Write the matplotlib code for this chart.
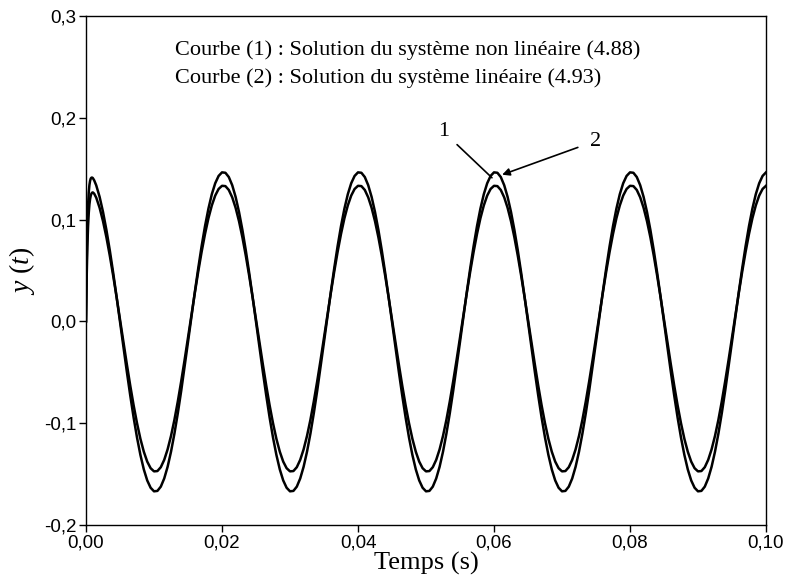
import matplotlib

matplotlib.use("Agg")

import matplotlib.pyplot as plt
import numpy as np
from matplotlib.ticker import FixedLocator, FuncFormatter

# time samples (s): dense start for the transient, then every 0.5 ms
time_start = [0.0, 0.0001, 0.0002, 0.0003, 0.0004, 0.0005, 0.0006,
              0.0007, 0.0008, 0.0009, 0.0010, 0.0012, 0.0015]
time_rest = list(np.round(np.arange(4, 201) * 0.0005, 4))
time_s = time_start + time_rest

# curve (1): non-linear system
y_curve1 = [
    0.0, 0.0441, 0.0736, 0.0932, 0.1062, 0.1148, 0.1202, 0.1236, 0.1255, 0.1264, 0.1266, 0.1254, 0.1215,
    0.1115, 0.0983, 0.0825, 0.0644, 0.0446, 0.0236,
    0.0017, -0.0203, -0.0420, -0.0629, -0.0824, -0.1000, -0.1154, -0.1280, -0.1377, -0.1442,
    -0.1473, -0.1470, -0.1432, -0.1360, -0.1257, -0.1125, -0.0967, -0.0786, -0.0588, -0.0378,
    -0.0159, 0.0061, 0.0278, 0.0487, 0.0682, 0.0858, 0.1012, 0.1138, 0.1235, 0.1300,
    # 0.02 s
    0.1331, 0.1328, 0.1290, 0.1218, 0.1115, 0.0983, 0.0825, 0.0644, 0.0446, 0.0236,
    0.0017, -0.0203, -0.0420, -0.0629, -0.0824, -0.1000, -0.1154, -0.1280, -0.1377, -0.1442,
    -0.1473, -0.1470, -0.1432, -0.1360, -0.1257, -0.1125, -0.0967, -0.0786, -0.0588, -0.0378,
    -0.0159, 0.0061, 0.0278, 0.0487, 0.0682, 0.0858, 0.1012, 0.1138, 0.1235, 0.1300,
    # 0.04 s
    0.1331, 0.1328, 0.1290, 0.1218, 0.1115, 0.0983, 0.0825, 0.0644, 0.0446, 0.0236,
    0.0017, -0.0203, -0.0420, -0.0629, -0.0824, -0.1000, -0.1154, -0.1280, -0.1377, -0.1442,
    -0.1473, -0.1470, -0.1432, -0.1360, -0.1257, -0.1125, -0.0967, -0.0786, -0.0588, -0.0378,
    -0.0159, 0.0061, 0.0278, 0.0487, 0.0682, 0.0858, 0.1012, 0.1138, 0.1235, 0.1300,
    # 0.06 s
    0.1331, 0.1328, 0.1290, 0.1218, 0.1115, 0.0983, 0.0825, 0.0644, 0.0446, 0.0236,
    0.0017, -0.0203, -0.0420, -0.0629, -0.0824, -0.1000, -0.1154, -0.1280, -0.1377, -0.1442,
    -0.1473, -0.1470, -0.1432, -0.1360, -0.1257, -0.1125, -0.0967, -0.0786, -0.0588, -0.0378,
    -0.0159, 0.0061, 0.0278, 0.0487, 0.0682, 0.0858, 0.1012, 0.1138, 0.1235, 0.1300,
    # 0.08 s
    0.1331, 0.1328, 0.1290, 0.1218, 0.1115, 0.0983, 0.0825, 0.0644, 0.0446, 0.0236,
    0.0017, -0.0203, -0.0420, -0.0629, -0.0824, -0.1000, -0.1154, -0.1280, -0.1377, -0.1442,
    -0.1473, -0.1470, -0.1432, -0.1360, -0.1257, -0.1125, -0.0967, -0.0786, -0.0588, -0.0378,
    -0.0159, 0.0061, 0.0278, 0.0487, 0.0682, 0.0858, 0.1012, 0.1138, 0.1235, 0.1300,
    # 0.10 s
    0.1331,
]

# curve (2): linear system
y_curve2 = [
    0.0, 0.0578, 0.0928, 0.1139, 0.1265, 0.1339, 0.1381, 0.1403, 0.1411, 0.1412, 0.1407, 0.1385, 0.1336,
    0.1222, 0.1074, 0.0897, 0.0696, 0.0475, 0.0239,
    -0.0005, -0.0251, -0.0493, -0.0726, -0.0944, -0.1141, -0.1312, -0.1454, -0.1562, -0.1634,
    -0.1669, -0.1665, -0.1623, -0.1543, -0.1428, -0.1280, -0.1103, -0.0902, -0.0681, -0.0445,
    -0.0202, 0.0045, 0.0287, 0.0520, 0.0738, 0.0935, 0.1106, 0.1248, 0.1356, 0.1428,
    # 0.02 s
    0.1463, 0.1459, 0.1417, 0.1337, 0.1222, 0.1074, 0.0897, 0.0696, 0.0475, 0.0239,
    -0.0005, -0.0251, -0.0493, -0.0726, -0.0944, -0.1141, -0.1312, -0.1454, -0.1562, -0.1634,
    -0.1669, -0.1665, -0.1623, -0.1543, -0.1428, -0.1280, -0.1103, -0.0902, -0.0681, -0.0445,
    -0.0202, 0.0045, 0.0287, 0.0520, 0.0738, 0.0935, 0.1106, 0.1248, 0.1356, 0.1428,
    # 0.04 s
    0.1463, 0.1459, 0.1417, 0.1337, 0.1222, 0.1074, 0.0897, 0.0696, 0.0475, 0.0239,
    -0.0005, -0.0251, -0.0493, -0.0726, -0.0944, -0.1141, -0.1312, -0.1454, -0.1562, -0.1634,
    -0.1669, -0.1665, -0.1623, -0.1543, -0.1428, -0.1280, -0.1103, -0.0902, -0.0681, -0.0445,
    -0.0202, 0.0045, 0.0287, 0.0520, 0.0738, 0.0935, 0.1106, 0.1248, 0.1356, 0.1428,
    # 0.06 s
    0.1463, 0.1459, 0.1417, 0.1337, 0.1222, 0.1074, 0.0897, 0.0696, 0.0475, 0.0239,
    -0.0005, -0.0251, -0.0493, -0.0726, -0.0944, -0.1141, -0.1312, -0.1454, -0.1562, -0.1634,
    -0.1669, -0.1665, -0.1623, -0.1543, -0.1428, -0.1280, -0.1103, -0.0902, -0.0681, -0.0445,
    -0.0202, 0.0045, 0.0287, 0.0520, 0.0738, 0.0935, 0.1106, 0.1248, 0.1356, 0.1428,
    # 0.08 s
    0.1463, 0.1459, 0.1417, 0.1337, 0.1222, 0.1074, 0.0897, 0.0696, 0.0475, 0.0239,
    -0.0005, -0.0251, -0.0493, -0.0726, -0.0944, -0.1141, -0.1312, -0.1454, -0.1562, -0.1634,
    -0.1669, -0.1665, -0.1623, -0.1543, -0.1428, -0.1280, -0.1103, -0.0902, -0.0681, -0.0445,
    -0.0202, 0.0045, 0.0287, 0.0520, 0.0738, 0.0935, 0.1106, 0.1248, 0.1356, 0.1428,
    # 0.10 s
    0.1463,
]

x_ticks = [0.0, 0.02, 0.04, 0.06, 0.08, 0.10]
y_ticks = [-0.2, -0.1, 0.0, 0.1, 0.2, 0.3]

legend_lines = [
    "Courbe (1) : Solution du système non linéaire (4.88)",
    "Courbe (2) : Solution du système linéaire (4.93)",
]

SERIF = "Liberation Serif"
SANS = "Liberation Sans"

plt.rcParams["mathtext.fontset"] = "custom"
plt.rcParams["mathtext.it"] = "Liberation Serif:italic"
plt.rcParams["mathtext.rm"] = "Liberation Serif"


def comma_fmt(decimals):
    return FuncFormatter(lambda v, _: f"{v:.{decimals}f}".replace(".", ","))


fig = plt.figure(figsize=(7.87, 5.76), dpi=100)
ax = fig.add_axes([0.1093, 0.0885, 0.864, 0.884])

ax.plot(time_s, y_curve1, color="black", linewidth=1.8)
ax.plot(time_s, y_curve2, color="black", linewidth=1.8)

ax.set_xlim(0.0, 0.10)
ax.set_ylim(-0.2, 0.3)
ax.xaxis.set_major_locator(FixedLocator(x_ticks))
ax.yaxis.set_major_locator(FixedLocator(y_ticks))
ax.xaxis.set_major_formatter(comma_fmt(2))
ax.yaxis.set_major_formatter(comma_fmt(1))
ax.tick_params(direction="out", length=5, width=1, labelsize=13.5, pad=2)
for lab in ax.get_xticklabels() + ax.get_yticklabels():
    lab.set_fontfamily(SANS)
for spine in ax.spines.values():
    spine.set_linewidth(1.0)

ax.set_xlabel("Temps (s)", family=SERIF, fontsize=19)
ax.xaxis.set_label_coords(0.5, -0.052)
ax.set_ylabel(r"$y$ ($t$)", family=SERIF, fontsize=20)
ax.yaxis.set_label_coords(-0.072, 0.5)

ax.text(0.0131, 0.2665, legend_lines[0], family=SERIF, fontsize=16, va="center")
ax.text(0.0131, 0.2390, legend_lines[1], family=SERIF, fontsize=16, va="center")

ax.annotate("1", xy=(0.0597, 0.141), xytext=(0.0526, 0.186),
            family=SERIF, fontsize=16, ha="center", va="center",
            arrowprops=dict(arrowstyle="-", color="black", lw=1.2,
                            shrinkA=5, shrinkB=0))
ax.annotate("2", xy=(0.0612, 0.144), xytext=(0.0749, 0.177),
            family=SERIF, fontsize=16, ha="center", va="center",
            arrowprops=dict(arrowstyle="-|>", color="black", lw=1.2,
                            mutation_scale=11, shrinkA=7, shrinkB=0))

fig.savefig("out.png", dpi=100)
plt.close(fig)
